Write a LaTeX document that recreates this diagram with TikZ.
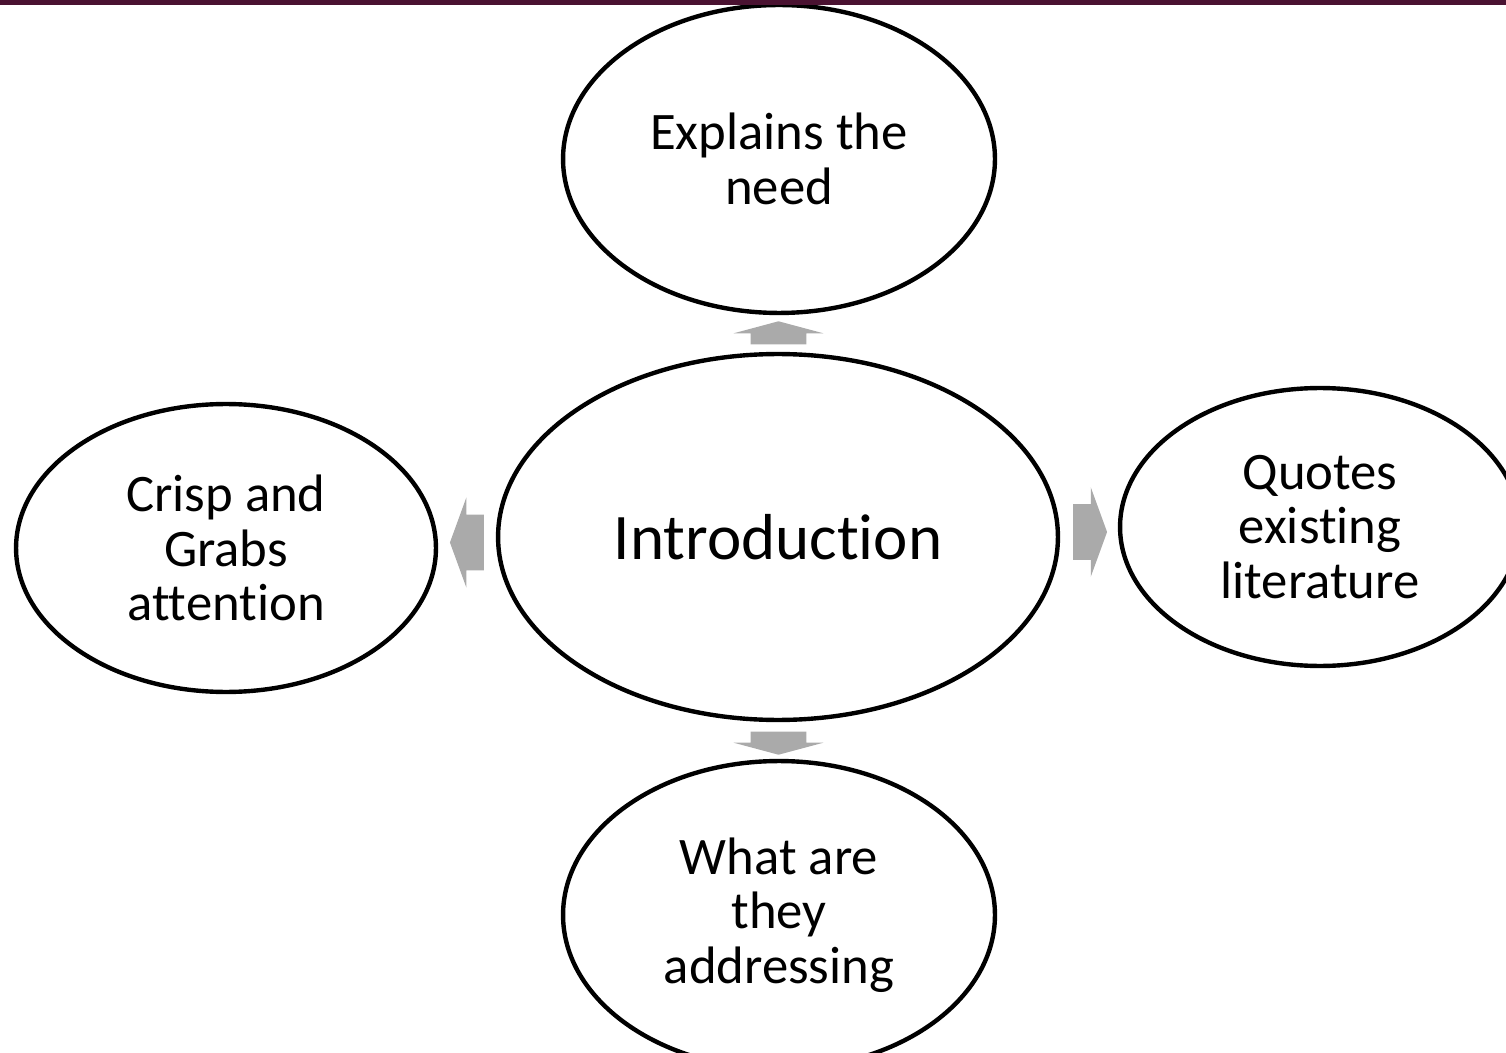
\documentclass[tikz,border=0pt]{standalone}
\usepackage{fontspec}
\setmainfont{Carlito}[Ligatures=NoCommon]
\usetikzlibrary{shapes.geometric,shapes.arrows,calc}

\definecolor{barmaroon}{HTML}{4A1231}
\definecolor{arrowgray}{HTML}{AAAAAA}

\begin{document}
\begin{tikzpicture}[x=0.02cm, y=-0.02cm,
	bubble/.style={draw, ellipse, line width=2.5pt, inner sep=0pt, align=center,
		font=\fontsize{30}{31}\selectfont},
	blockarrow/.style={single arrow, fill=arrowgray, draw=none, inner xsep=0pt,
		inner ysep=0.55cm, single arrow head extend=0.34cm}]

	\useasboundingbox (0,0) rectangle (1506,1053);
	\clip (0,0) rectangle (1506,1053);

	% central topic
	\node[bubble, minimum width=11.2cm, minimum height=7.32cm,
		font=\fontsize{37}{40}\selectfont] (intro) at (778,537) {Introduction};

	% the four points round it
	\node[bubble, minimum width=8.64cm, minimum height=6.16cm] (need) at (779,159)
		{Explains the\\need};
	\node[bubble, minimum width=8.4cm, minimum height=5.76cm] (attn) at (226,548)
		{Crisp and\\Grabs\\attention};
	\node[bubble, minimum width=8cm, minimum height=5.56cm] (lit) at (1320,527)
		{Quotes\\existing\\literature};
	\node[bubble, minimum width=8.64cm, minimum height=6.16cm] (addr) at (779,915)
		{What are\\they\\addressing};

	% block arrows
	\node[blockarrow, minimum height=0.46cm, single arrow tip angle=150, rotate=90]
		(toNeed) at ($(intro.north)!0.5!(need.south)+(0,3)$) {};
	\node[blockarrow, minimum height=0.46cm, single arrow tip angle=150, rotate=-90]
		(toAddr) at ($(intro.south)!0.5!(addr.north)+(0,-1)$) {};
	\node[blockarrow, minimum height=0.68cm, single arrow tip angle=140, rotate=180]
		(toAttn) at ($(intro.west)!0.5!(attn.east)+(5,0)$) {};
	\node[blockarrow, minimum height=0.68cm, single arrow tip angle=140]
		(toLit) at ($(intro.east)!0.5!(lit.west)+(-4,0)$) {};

	% top bar
	\fill[barmaroon] (0,0) rectangle (1506,5);

\end{tikzpicture}
\end{document}
